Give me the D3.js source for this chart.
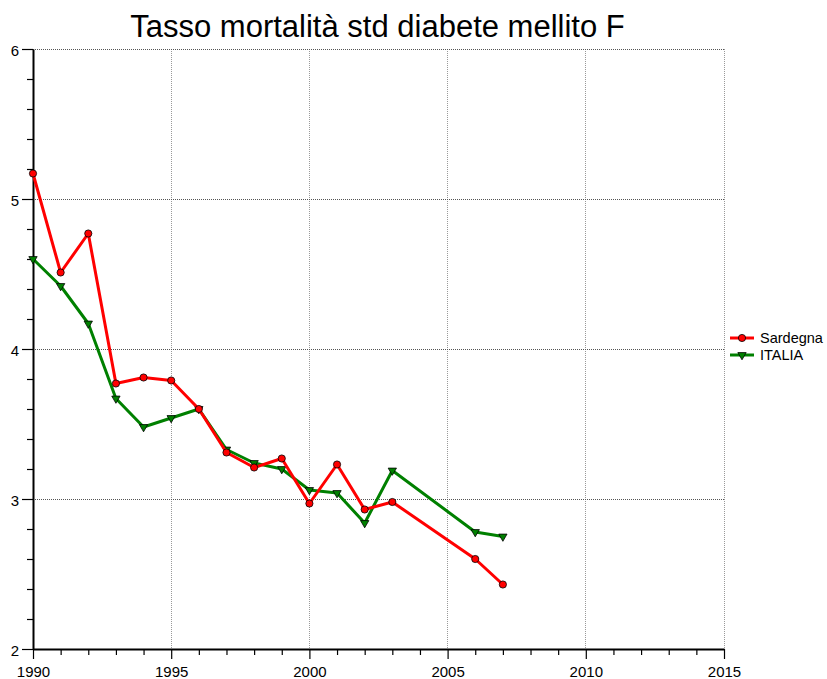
<!DOCTYPE html>
<html>
<head>
<meta charset="utf-8">
<script src="https://cdn.jsdelivr.net/npm/d3@7/dist/d3.min.js"></script>
<style>
  html, body { margin: 0; padding: 0; background: #fff; }
  svg { display: block; font-family: "Liberation Sans", Arial, sans-serif; }
</style>
</head>
<body>
<svg id="chart" width="827" height="679"></svg>
<script>
// Standardised mortality rate, diabetes mellitus, females
const years      = [1990, 1991, 1992, 1993, 1994, 1995, 1996, 1997, 1998, 1999, 2000, 2001, 2002, 2003, 2006, 2007];
const sardegna   = [5.17, 4.51, 4.77, 3.77, 3.81, 3.79, 3.60, 3.31, 3.21, 3.27, 2.97, 3.23, 2.93, 2.98, 2.60, 2.43];
const italia     = [4.60, 4.42, 4.17, 3.67, 3.48, 3.54, 3.60, 3.33, 3.24, 3.20, 3.06, 3.04, 2.84, 3.19, 2.78, 2.75];
const xTicks     = [1990, 1995, 2000, 2005, 2010, 2015];
const yTicks     = [2, 3, 4, 5, 6];
const seriesNames = ["Sardegna", "ITALIA"];

const svg = d3.select("#chart");
const plotL = 33, plotR = 724, plotT = 49, plotB = 649;
const FONT = "Liberation Sans, Arial, sans-serif";

const x = d3.scaleLinear().domain([1990, 2015]).range([plotL, plotR]);
const y = d3.scaleLinear().domain([2, 6]).range([plotB, plotT]);

// Title
svg.append("text")
  .attr("x", (plotL + plotR) / 2 - 1).attr("y", 37)
  .attr("text-anchor", "middle")
  .attr("font-size", 31)
  .attr("fill", "#000")
  .text("Tasso mortalità std diabete mellito F");

// Grid
const grid = svg.append("g");
grid.selectAll("line.gx").data(xTicks.slice(1)).join("line")
  .attr("x1", d => x(d)).attr("x2", d => x(d))
  .attr("y1", plotT).attr("y2", plotB)
  .attr("stroke", "#999").attr("stroke-width", 1)
  .attr("stroke-dasharray", "1,1").attr("shape-rendering", "crispEdges");
grid.selectAll("line.gy").data(yTicks.slice(1)).join("line")
  .attr("x1", plotL).attr("x2", plotR)
  .attr("y1", d => y(d)).attr("y2", d => y(d))
  .attr("stroke", "#555").attr("stroke-width", 1)
  .attr("stroke-dasharray", "1,1").attr("shape-rendering", "crispEdges");

// Axes: minor ticks every year / every 0.2, labels on the majors only
const xAxis = d3.axisBottom(x).tickValues(d3.range(1990, 2016, 1))
  .tickFormat(d => xTicks.includes(d) ? d : "")
  .tickSize(6).tickSizeOuter(0);
const gx = svg.append("g").attr("transform", `translate(0,${plotB})`).call(xAxis);
gx.selectAll(".tick line").attr("y2", d => xTicks.includes(d) ? 10 : 6);
gx.selectAll(".tick text").attr("font-size", 15).attr("font-family", FONT)
  .attr("fill", "#000").attr("dy", "0").attr("y", 28);

const yAxis = d3.axisLeft(y).tickValues(d3.range(2, 6.001, 0.2).map(v => +v.toFixed(1)))
  .tickFormat(d => yTicks.includes(d) ? d : "")
  .tickSize(6).tickSizeOuter(0);
const gy = svg.append("g").attr("transform", `translate(${plotL},0)`).call(yAxis);
gy.selectAll(".tick line").attr("x2", d => yTicks.includes(d) ? -11 : -6);
gy.selectAll(".tick text").attr("font-size", 15).attr("font-family", FONT)
  .attr("fill", "#000").attr("x", -14).attr("dy", "0.4em");
[gx, gy].forEach(g => {
  g.select(".domain").attr("stroke", "#000").attr("stroke-width", 2);
  g.selectAll(".tick line").attr("stroke", "#000").attr("stroke-width", 1.2);
});

// Series
const seriesData = [
  { name: seriesNames[0], values: sardegna, color: "#ff0000", marker: "circle" },
  { name: seriesNames[1], values: italia, color: "#008000", marker: "triangle" }
];
const line = d3.line().x(d => x(d[0])).y(d => y(d[1]));
const tri = d3.symbol().type(d3.symbolTriangle).size(30);

function drawMarker(g, kind, color, cx, cy) {
  if (kind === "circle") {
    g.append("circle").attr("cx", cx).attr("cy", cy).attr("r", 3.6)
      .attr("fill", color).attr("stroke", "#000").attr("stroke-width", 0.8);
  } else {
    g.append("path").attr("d", tri())
      .attr("transform", `translate(${cx},${cy}) rotate(180)`)
      .attr("fill", color).attr("stroke", "#000").attr("stroke-width", 0.8);
  }
}

seriesData.slice().reverse().forEach(s => {
  const pts = years.map((yr, i) => [yr, s.values[i]]);
  const g = svg.append("g");
  g.append("path").attr("d", line(pts))
    .attr("fill", "none").attr("stroke", s.color).attr("stroke-width", 3)
    .attr("stroke-linejoin", "round");
  pts.forEach(p => drawMarker(g, s.marker, s.color, x(p[0]), y(p[1])));
});

// Legend
const legend = svg.append("g");
seriesData.forEach((s, i) => {
  const ly = 338 + i * 17;
  legend.append("line").attr("x1", 730).attr("x2", 754).attr("y1", ly).attr("y2", ly)
    .attr("stroke", s.color).attr("stroke-width", 3);
  drawMarker(legend, s.marker, s.color, 742, ly);
  legend.append("text").attr("x", 760).attr("y", ly).attr("dy", "0.36em")
    .attr("font-size", 14.5).attr("font-family", FONT).attr("fill", "#000").text(s.name);
});
</script>
</body>
</html>
